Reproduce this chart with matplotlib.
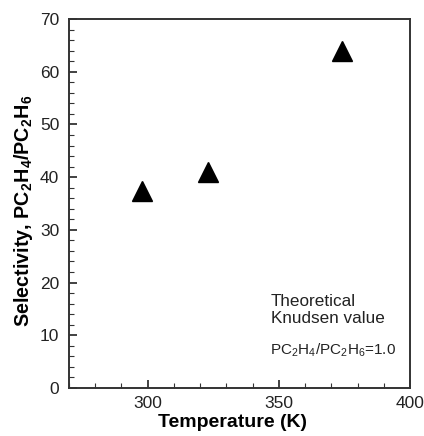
import matplotlib
matplotlib.use("Agg")
import matplotlib.pyplot as plt
from matplotlib.ticker import MultipleLocator

temperature = [298, 323, 374]
selectivity = [37.4, 40.9, 64.0]
x_ticks = [300, 350, 400]
y_ticks = [0, 10, 20, 30, 40, 50, 60, 70]

plt.rcParams['font.family'] = ['Liberation Sans', 'DejaVu Sans']
plt.rcParams['mathtext.fontset'] = 'custom'
plt.rcParams['mathtext.rm'] = 'Liberation Sans'
plt.rcParams['mathtext.bf'] = 'Liberation Sans:bold'
plt.rcParams['mathtext.default'] = 'regular'

W, H = 424, 436
fig = plt.figure(figsize=(W/100, H/100), dpi=100)
ax = fig.add_axes([69/W, 1-388/H, (410-69)/W, (388-19)/H])

ax.plot(temperature, selectivity, linestyle='none', marker='^', markersize=14.5,
        color='black')

ax.set_xlim(270, 400)
ax.set_ylim(0, 70)
ax.set_xticks(x_ticks)
ax.set_yticks(y_ticks)
ax.xaxis.set_minor_locator(MultipleLocator(10))
ax.yaxis.set_minor_locator(MultipleLocator(2))
ax.tick_params(which='both', direction='in', top=False, right=False,
               labelsize=12.5, colors='#333333', labelcolor='#222222')
ax.tick_params(which='major', length=6, width=1.3)
ax.tick_params(which='minor', length=3.5, width=0.8)
ax.tick_params(axis='y', pad=7)
ax.tick_params(axis='x', pad=5.5)
for s in ax.spines.values():
    s.set_linewidth(1.4)
    s.set_color('#333333')

ax.set_xlabel('Temperature (K)', fontsize=14, fontweight='bold', labelpad=0)
ax.xaxis.set_label_coords((232-69)/(410-69), -(414-388)/(388-19))
ax.set_ylabel(r'Selectivity, PC$_{\mathbf{2}}$H$_{\mathbf{4}}$/PC$_{\mathbf{2}}$H$_{\mathbf{6}}$',
              fontsize=14.2, fontweight='bold')
ax.yaxis.set_label_coords(-(69-35)/(410-69), (388-211)/(388-19))

ax.text((271-69)/(410-69), (388-294)/(388-19), 'Theoretical\nKnudsen value',
        transform=ax.transAxes, fontsize=12.3, color='#222222', va='top', ha='left',
        linespacing=1.2)
ax.text((270-69)/(410-69), (388-350)/(388-19), r'PC$_2$H$_4$/PC$_2$H$_6$=1.0',
        transform=ax.transAxes, fontsize=11, color='#222222', va='center', ha='left')

fig.savefig('out.png', dpi=100)
